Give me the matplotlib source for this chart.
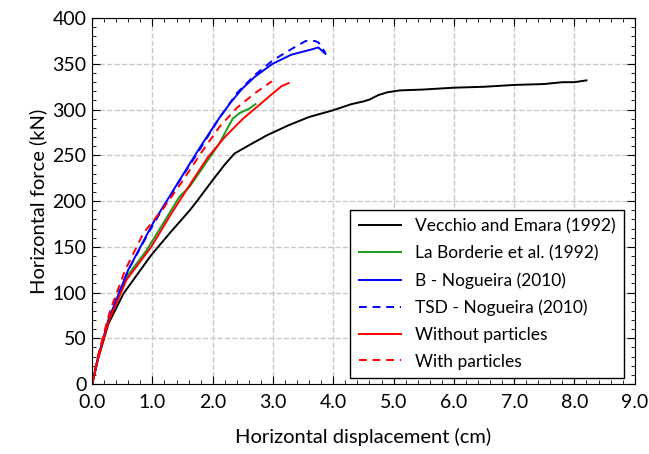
import matplotlib
matplotlib.use("Agg")
import matplotlib.pyplot as plt
from matplotlib.ticker import MultipleLocator

plt.rcParams['font.family'] = ['Lato', 'DejaVu Sans']

# Vecchio and Emara (1992)
ve_x = [0.0, 0.1, 0.27, 0.52, 0.75, 0.98, 1.3, 1.62, 1.75, 2.0, 2.2, 2.36, 2.6, 2.9, 3.26, 3.6, 3.98, 4.3, 4.5, 4.6, 4.75, 4.9, 5.1, 5.5, 6.0, 6.5, 7.0, 7.5, 7.8, 8.0, 8.2]
ve_f = [0, 28, 66, 99, 120, 141, 166, 190, 201, 223, 240, 252, 261, 272, 283, 292, 299, 306, 309, 311, 316, 319, 321, 322, 324, 325, 327, 328, 330, 330, 332]

# La Borderie et al. (1992)
lb_x = [0.0, 0.1, 0.27, 0.45, 0.57, 0.9, 1.2, 1.45, 1.62, 1.9, 2.1, 2.33, 2.44, 2.6, 2.71]
lb_f = [0, 30, 70, 100, 117, 146, 178, 205, 216, 243, 262, 290, 296, 301, 306]

# B - Nogueira (2010)
bn_x = [0.0, 0.1, 0.27, 0.6, 1.01, 1.45, 1.8, 2.1, 2.3, 2.49, 2.7, 2.99, 3.3, 3.65, 3.75, 3.87]
bn_f = [0, 30, 70, 125, 176, 223, 260, 290, 308, 323, 336, 350, 360, 366, 368, 361]

# TSD - Nogueira (2010)
tn_x = [0.0, 0.1, 0.27, 0.6, 1.0, 1.4, 1.8, 2.1, 2.4, 2.7, 3.0, 3.3, 3.54, 3.7, 3.76, 3.87]
tn_f = [0, 30, 72, 125, 173, 217, 258, 290, 318, 338, 354, 366, 375, 375, 373, 362]

# Without particles
wo_x = [0.0, 0.1, 0.27, 0.57, 0.98, 1.3, 1.67, 1.92, 2.2, 2.5, 2.77, 3.0, 3.15, 3.26]
wo_f = [0, 28, 68, 114, 150, 185, 223, 248, 270, 290, 305, 318, 326, 329]

# With particles
wi_x = [0.0, 0.1, 0.3, 0.55, 0.85, 1.18, 1.5, 1.8, 2.11, 2.4, 2.7, 2.98]
wi_f = [0, 32, 81, 125, 165, 192, 222, 252, 281, 302, 318, 331]

fig = plt.figure(figsize=(6.49, 4.54), dpi=100)
ax = fig.add_axes([0.142, 0.154, 0.836, 0.806])

ax.plot(ve_x, ve_f, color='black', lw=1.4, label='Vecchio and Emara (1992)')
ax.plot(lb_x, lb_f, color='#1a9a1a', lw=1.4, label='La Borderie et al. (1992)')
ax.plot(bn_x, bn_f, color='blue', lw=1.4, label='B - Nogueira (2010)')
ax.plot(tn_x, tn_f, color='blue', lw=1.4, ls=(0, (4, 3)), label='TSD - Nogueira (2010)')
ax.plot(wo_x, wo_f, color='red', lw=1.4, label='Without particles')
ax.plot(wi_x, wi_f, color='red', lw=1.4, ls=(0, (4, 3)), label='With particles')

ax.set_xlim(0, 9)
ax.set_ylim(0, 400)
ax.xaxis.set_major_locator(MultipleLocator(1))
ax.xaxis.set_minor_locator(MultipleLocator(0.2))
ax.yaxis.set_major_locator(MultipleLocator(50))
ax.yaxis.set_minor_locator(MultipleLocator(10))
ax.set_xticklabels([f"{v:.1f}" for v in ax.get_xticks()])
ax.tick_params(which='both', direction='in', top=True, right=True, labelsize=14)
ax.tick_params(which='major', length=6)
ax.tick_params(which='minor', length=3)
ax.tick_params(axis='x', pad=7)
ax.tick_params(axis='y', pad=4)
ax.grid(True, which='major', ls='--', color='#c8c8c8', lw=1)

ax.set_xlabel('Horizontal displacement (cm)', fontsize=14.5, labelpad=12)
ax.set_ylabel('Horizontal force (kN)', fontsize=14.5, labelpad=4)

leg = ax.legend(loc='lower right', bbox_to_anchor=(0.98, 0.016), borderaxespad=0,
                fontsize=12.5, fancybox=False, framealpha=1, edgecolor='black',
                handlelength=2.4, labelspacing=0.62, borderpad=0.5)
leg.get_frame().set_linewidth(1.0)

fig.savefig('out.png', dpi=100)
